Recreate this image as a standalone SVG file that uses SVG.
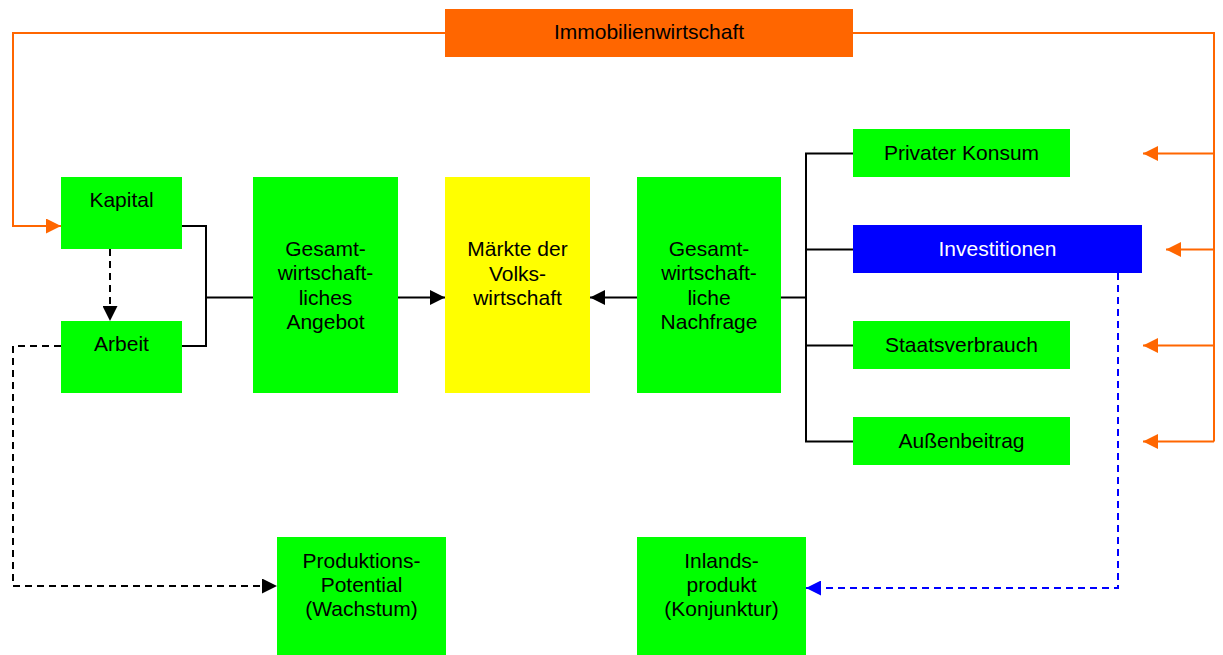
<svg xmlns="http://www.w3.org/2000/svg" width="1223" height="655" viewBox="0 0 1223 655">
<style>
text{font-family:"Liberation Sans",Arial,sans-serif;font-size:21px;text-anchor:middle;fill:#000}
.g{fill:#00FF00}
.ln{fill:none;stroke:#000;stroke-width:2}
.or{fill:none;stroke:#FF6600;stroke-width:2}
.dk{fill:none;stroke:#000;stroke-width:2;stroke-dasharray:7 5}
.db{fill:none;stroke:#0000FF;stroke-width:2;stroke-dasharray:7 5}
</style>
<defs>
<marker id="ab" markerUnits="userSpaceOnUse" markerWidth="15" markerHeight="15" refX="15" refY="7.5" orient="auto"><path d="M0,0 L15,7.5 L0,15 z" fill="#000"/></marker>
<marker id="ao" markerUnits="userSpaceOnUse" markerWidth="15" markerHeight="15" refX="15" refY="7.5" orient="auto"><path d="M0,0 L15,7.5 L0,15 z" fill="#FF6600"/></marker>
<marker id="abl" markerUnits="userSpaceOnUse" markerWidth="15" markerHeight="15" refX="15" refY="7.5" orient="auto"><path d="M0,0 L15,7.5 L0,15 z" fill="#0000FF"/></marker>
</defs>
<rect width="1223" height="655" fill="#fff"/>
<g id="connectors">
<path class="or" d="M445,33 H13 V226 H61" marker-end="url(#ao)"/>
<path class="or" d="M853,33 H1214 V441.5"/>
<path class="or" d="M1214,153.5 H1143" marker-end="url(#ao)"/>
<path class="or" d="M1214,249.5 H1166" marker-end="url(#ao)"/>
<path class="or" d="M1214,345.5 H1143" marker-end="url(#ao)"/>
<path class="or" d="M1214,441.5 H1143" marker-end="url(#ao)"/>
<path class="ln" d="M182,226 H206 V346 H182"/>
<path class="ln" d="M206,297.5 H253"/>
<path class="dk" d="M110,249 V321" marker-end="url(#ab)"/>
<path class="dk" d="M61,346 H13 V586 H277" marker-end="url(#ab)"/>
<path class="ln" d="M398,297.5 H445" marker-end="url(#ab)"/>
<path class="ln" d="M637,297.5 H590" marker-end="url(#ab)"/>
<path class="ln" d="M781,297.5 H806"/>
<path class="ln" d="M853,153.5 H806 V441.5 H853"/>
<path class="ln" d="M806,249.5 H853"/>
<path class="ln" d="M806,345.5 H853"/>
<path class="db" d="M1118,273 V588 H806" marker-end="url(#abl)"/>
</g>
<g id="immobilien"><rect x="445" y="9" width="408" height="48" fill="#FF6600"/><text x="649" y="39">Immobilienwirtschaft</text></g>
<g id="kapital"><rect class="g" x="61" y="177" width="121" height="72"/><text x="121.5" y="207">Kapital</text></g>
<g id="arbeit"><rect class="g" x="61" y="321" width="121" height="72"/><text x="121.5" y="351">Arbeit</text></g>
<g id="angebot"><rect class="g" x="253" y="177" width="145" height="216"/><text x="325.5" y="256">Gesamt-</text><text x="325.5" y="280">wirtschaft-</text><text x="325.5" y="305">liches</text><text x="325.5" y="329">Angebot</text></g>
<g id="maerkte"><rect x="445" y="177" width="145" height="216" fill="#FFFF00"/><text x="517.5" y="256">Märkte der</text><text x="517.5" y="281">Volks-</text><text x="517.5" y="305">wirtschaft</text></g>
<g id="nachfrage"><rect class="g" x="637" y="177" width="144" height="216"/><text x="709" y="256">Gesamt-</text><text x="709" y="280">wirtschaft-</text><text x="709" y="305">liche</text><text x="709" y="329">Nachfrage</text></g>
<g id="konsum"><rect class="g" x="853" y="129" width="217" height="48"/><text x="961.5" y="160">Privater Konsum</text></g>
<g id="investitionen"><rect x="853" y="225" width="289" height="48" fill="#0000FF"/><text x="997.5" y="256" style="fill:#fff">Investitionen</text></g>
<g id="staat"><rect class="g" x="853" y="321" width="217" height="48"/><text x="961.5" y="352">Staatsverbrauch</text></g>
<g id="aussen"><rect class="g" x="853" y="417" width="217" height="48"/><text x="961.5" y="448">Außenbeitrag</text></g>
<g id="produktion"><rect class="g" x="277" y="537" width="169" height="118"/><text x="361.5" y="568">Produktions-</text><text x="361.5" y="592">Potential</text><text x="361.5" y="616">(Wachstum)</text></g>
<g id="inland"><rect class="g" x="637" y="537" width="169" height="118"/><text x="721.5" y="568">Inlands-</text><text x="721.5" y="592">produkt</text><text x="721.5" y="616">(Konjunktur)</text></g>
</svg>
